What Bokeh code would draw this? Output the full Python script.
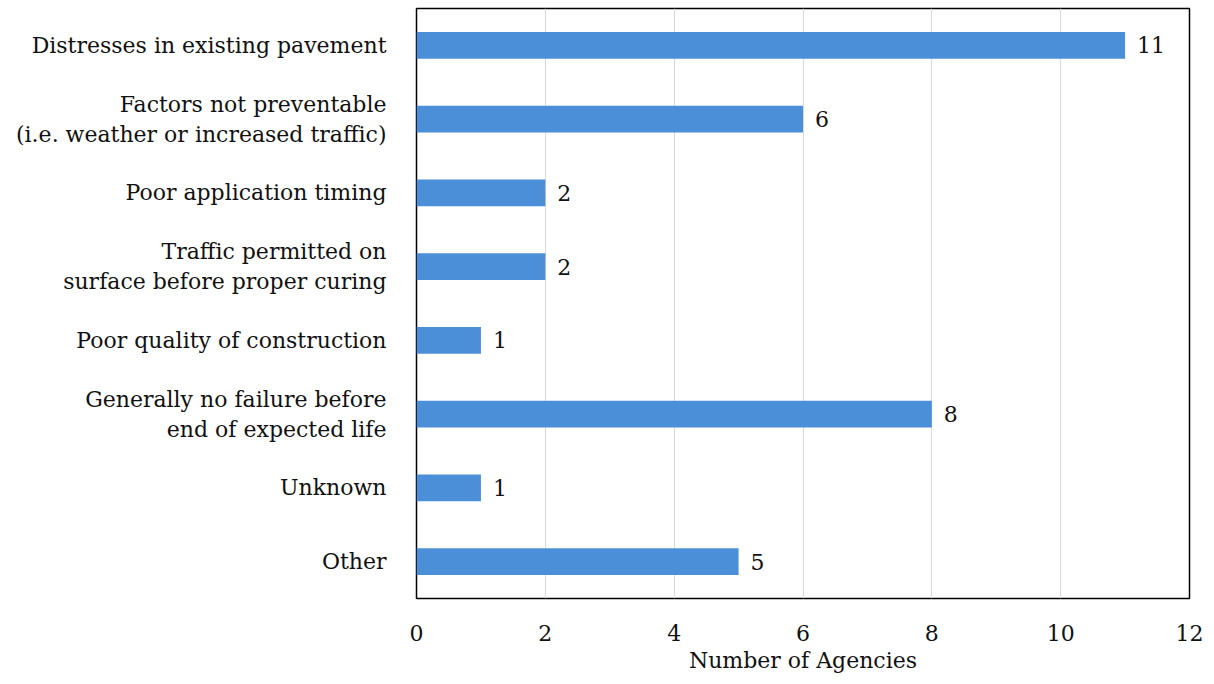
from bokeh.plotting import figure
from bokeh.models import ColumnDataSource, FixedTicker
from bokeh.core.properties import value
from bokeh.embed import file_html
from bokeh.resources import INLINE

categories = [
    "Distresses in existing pavement",
    "Factors not preventable\n(i.e. weather or increased traffic)",
    "Poor application timing",
    "Traffic permitted on\nsurface before proper curing",
    "Poor quality of construction",
    "Generally no failure before\nend of expected life",
    "Unknown",
    "Other",
]
counts = [11, 6, 2, 2, 1, 8, 1, 5]
x_ticks = [0, 2, 4, 6, 8, 10, 12]

FONT = "DejaVu Serif"
FS = "22px"

src = ColumnDataSource(dict(cat=categories, n=counts, lab=[str(c) for c in counts]))

p = figure(
    width=1214, height=684,
    y_range=list(reversed(categories)), x_range=(0, 12),
    output_backend="svg", toolbar_location=None,
    min_border_left=416, min_border_right=25, min_border_top=8, min_border_bottom=86,
)
p.background_fill_color = "white"
p.border_fill_color = "white"
p.outline_line_color = "black"
p.outline_line_width = 1.5

p.hbar(y="cat", right="n", left=0, height=0.36, source=src,
       fill_color="#4A8FD8", line_color=None)
p.text(x="n", y="cat", text="lab", source=src, x_offset=12,
       text_font=value(FONT), text_font_size=FS, text_color="#111111",
       text_baseline="middle", text_align="left")

p.xgrid.ticker = FixedTicker(ticks=x_ticks)
p.xgrid.grid_line_color = "#d9d9d9"
p.ygrid.grid_line_color = None

p.xaxis.ticker = FixedTicker(ticks=x_ticks)
p.xaxis.axis_line_color = None
p.xaxis.major_tick_line_color = None
p.xaxis.minor_tick_line_color = None
p.xaxis.major_label_standoff = 20
p.xaxis.major_label_text_font = FONT
p.xaxis.major_label_text_font_size = FS
p.xaxis.major_label_text_color = "#111111"
p.xaxis.axis_label = "Number of Agencies"
p.xaxis.axis_label_text_font = FONT
p.xaxis.axis_label_text_font_style = "normal"
p.xaxis.axis_label_text_font_size = FS
p.xaxis.axis_label_text_color = "#111111"
p.xaxis.axis_label_standoff = 4

p.yaxis.axis_line_color = None
p.yaxis.major_tick_line_color = None
p.yaxis.minor_tick_line_color = None
p.yaxis.major_label_standoff = 24
p.yaxis.major_label_text_font = FONT
p.yaxis.major_label_text_font_size = FS
p.yaxis.major_label_text_color = "#111111"
p.yaxis.major_label_text_align = "center"

open("out.html", "w").write(file_html(p, INLINE))
